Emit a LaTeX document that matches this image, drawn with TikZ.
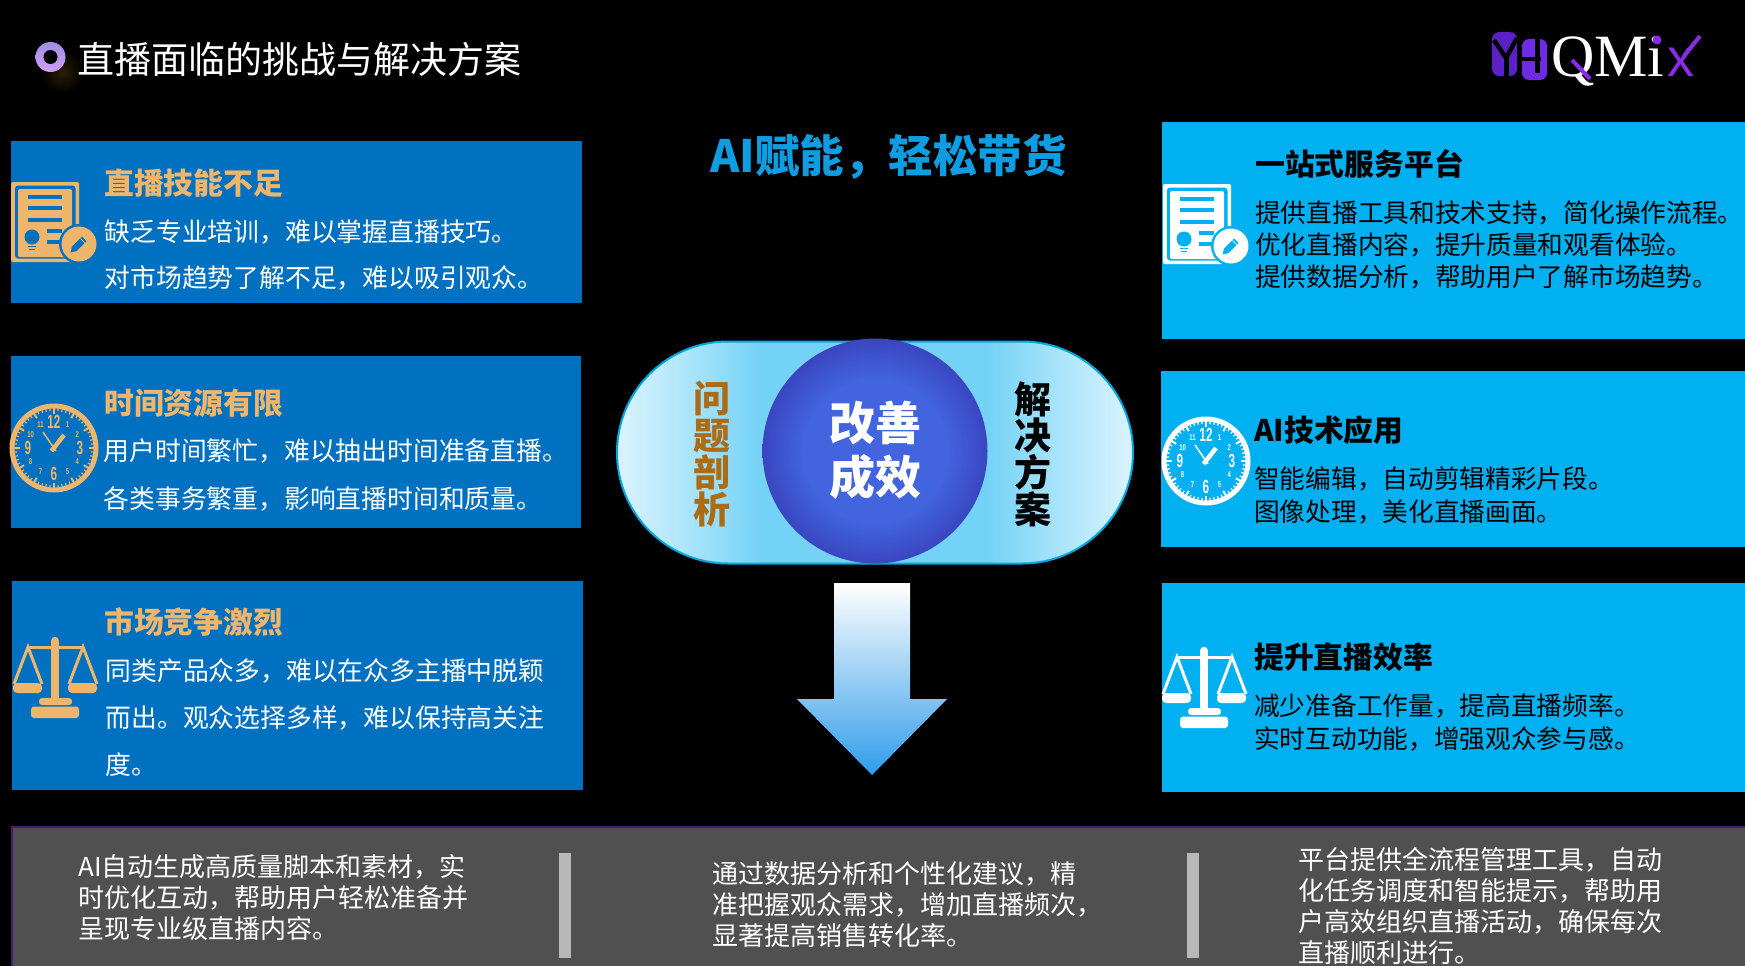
\documentclass[tikz,border=0pt]{standalone}
\usepackage{fontspec}
\setmainfont{Noto Sans CJK SC}
\newfontfamily\numfont{Liberation Sans}
\newfontfamily\logofont{Liberation Serif}

\definecolor{probblue}{HTML}{0070C0}
\definecolor{solvblue}{HTML}{00B0F0}
\definecolor{tan}{HTML}{EEB56C}
\definecolor{bandgray}{HTML}{505050}
\definecolor{bandline}{HTML}{4A1A6E}
\definecolor{sepgray}{HTML}{B8B8B8}
\definecolor{headblue}{HTML}{0F9DE2}
\definecolor{capsedge}{HTML}{00A8E0}
\definecolor{capspale}{HTML}{DAF3FD}
\definecolor{capslight}{HTML}{B2E7FB}
\definecolor{capsmid}{HTML}{74D2F6}
\definecolor{ballin}{HTML}{4264DE}
\definecolor{ballout}{HTML}{3946C0}
\definecolor{probword}{HTML}{AD6B14}
\definecolor{arrowmid}{HTML}{93DBF8}
\definecolor{arrowend}{HTML}{2F9CEA}
\definecolor{logoa}{HTML}{5A22C4}
\definecolor{logob}{HTML}{6E2BE6}
\definecolor{logox}{HTML}{8A2BE8}
\definecolor{dotup}{HTML}{A08CE2}
\definecolor{dotlow}{HTML}{D09EF8}
\definecolor{glow}{HTML}{2A1E08}

\pgfdeclarehorizontalshading{capsshade}{100bp}{color(0bp)=(capspale); color(25bp)=(capspale); color(31bp)=(capslight); color(39bp)=(capsmid); color(61bp)=(capsmid); color(69bp)=(capslight); color(75bp)=(capspale); color(100bp)=(capspale)}
\pgfdeclareradialshading{ballshade}{\pgfpoint{0bp}{0bp}}{color(0bp)=(ballin); color(16bp)=(ballin); color(25bp)=(ballout); color(50bp)=(ballout)}

\tikzset{
    probbox/.style={fill=probblue, rectangle, inner sep=0},
    solvbox/.style={fill=solvblue, rectangle, inner sep=0},
    probhead/.style={anchor=west, inner sep=0, text=tan, font=\fontsize{29.8}{36}\selectfont\bfseries},
    solvhead/.style={anchor=west, inner sep=0, text=black, font=\fontsize{29.8}{36}\selectfont\bfseries},
    probtext/.style={anchor=west, inner sep=0, align=left, text=white, font=\fontsize{25.8}{#1}\selectfont},
    solvtext/.style={anchor=west, inner sep=0, align=left, text=black, font=\fontsize{25.7}{#1}\selectfont},
    bandtext/.style={anchor=west, inner sep=0, align=left, text=white, font=\fontsize{26}{31}\selectfont},
    sidetext/.style={inner sep=0, align=center, font=\fontsize{37}{36.7}\selectfont\bfseries},
    sepbar/.style={fill=sepgray, rectangle, inner sep=0, minimum width=11.5pt, minimum height=105pt},
    bignum/.style={inner sep=0, xscale=0.62, transform shape, font=\fontsize{19}{19}\selectfont\numfont\bfseries},
    smallnum/.style={inner sep=0, xscale=0.7, transform shape, font=\fontsize{8.5}{9}\selectfont\numfont\bfseries},
}

% icons: position, then foreground and background colour
\newcommand{\docicon}[4]{
    \begin{scope}[shift={(#1,#2)}]
        \fill[#3, rounded corners=2pt] (0, 0) rectangle (68, 80);
        \fill[#4, rounded corners=3pt] (4, 3.5) rectangle (64.5, 76.5);
        \fill[#3, rounded corners=2pt] (7, 7) rectangle (61, 75);
        \foreach \y in {15, 26, 38} {
            \draw[#4, line width=4pt] (17, \y) -- (51, \y);
        }
        \draw[#4, line width=4pt] (36, 49) -- (51, 49);
        \draw[#4, line width=4pt] (36, 60) -- (51, 60);
        \fill[#4] (21, 55) circle (7.5);
        \draw[#4, line width=1.2pt] (17, 64.5) -- (25, 64.5);
        \draw[#4, line width=1.2pt] (18, 67.5) -- (24, 67.5);
        \fill[#4] (68, 62) circle (20);
        \fill[#3] (68, 62) circle (17.5);
        \fill[#4] (59.5, 70.5) -- (61, 64.5) -- (71, 54.5) -- (75.5, 59) -- (65.5, 69) -- cycle;
        \draw[#3, line width=0.8pt] (69.5, 56.5) -- (73.5, 60.5);
    \end{scope}
}
\newcommand{\clockicon}[5]{
    \begin{scope}[shift={(#2,#3)}]
        \draw[#4, line width=5pt] (0, 0) circle (42);
        \foreach \a in {0, 6, ..., 354} {
            \draw[#4, line width=1.2pt] (\a:41) -- (\a:37);
        }
        \foreach \a in {0, 30, ..., 330} {
            \draw[#4, line width=2pt] (\a:41) -- (\a:34.5);
        }
        \foreach \n/\a in {12/-90, 3/0, 6/90, 9/180} {
            \node[bignum, text=#4] at (\a:26) (#1big\n) {\n};
        }
        \foreach \n/\a in {1/-60, 2/-30, 4/30, 5/60, 7/120, 8/150, 10/210, 11/240} {
            \node[smallnum, text=#4] at (\a:27) (#1small\n) {\n};
        }
        \draw[#4, line width=4.5pt] (-2.5, 3) -- (10, -13);
        \draw[#4, line width=1.5pt] (2, 3) -- (-11, -16);
    \end{scope}
}
\newcommand{\scaleicon}[3]{
    \begin{scope}[shift={(#1,#2)}]
        \draw[#3, line width=8.5pt, line cap=round] (0, 4) -- (0, 61);
        \draw[#3, line width=3pt] (-27, 10.5) -- (27, 10.5);
        \draw[#3, line width=3pt] (-41, 47) -- (-27, 10) -- (-13, 47);
        \draw[#3, line width=3pt] (14, 47) -- (28, 10) -- (42, 47);
        \fill[#3, rounded corners=4pt] (-42, 46) -- (-13, 46) -- (-13, 56) -- (-42, 56) -- cycle;
        \fill[#3, rounded corners=4pt] (13, 46) -- (42, 46) -- (42, 56) -- (13, 56) -- cycle;
        \fill[#3, rounded corners=3pt] (-16, 68) -- (-16, 61) -- (17, 61) -- (17, 68) -- cycle;
        \fill[#3, rounded corners=3pt] (-24, 69.5) rectangle (24, 81);
    \end{scope}
}

\begin{document}
\begin{tikzpicture}[x=1pt, y=-1pt]
    \fill[black] (0, 0) rectangle (1745, 966);
    \useasboundingbox (0, 0) rectangle (1745, 966);

    % title
    \shade[inner color=glow, outer color=black] (62, 72) circle (22);
    \shade[top color=dotup, bottom color=dotlow] (50.5, 57) circle (15);
    \fill[black] (50.5, 57) circle (7);
    \node[anchor=west, inner sep=0, text=white, font=\fontsize{37}{40}\selectfont] at (77, 59) (title) {直播面临的挑战与解决方案};

    % logo
    \fill[logoa, rounded corners=7pt] (1492, 32) rectangle (1517, 76);
    \fill[logob, rounded corners=7pt] (1522, 39) rectangle (1547, 80);
    \draw[black, line width=4.5pt] (1494, 40) -- (1506, 58) -- (1517, 38);
    \draw[black, line width=5pt] (1506, 58) -- (1506, 77);
    \draw[black, line width=4.5pt] (1521, 59) -- (1541, 59);
    \draw[black, line width=5pt] (1537.5, 38) -- (1537.5, 73);
    \node[anchor=base west, inner sep=0, text=white, font=\fontsize{60}{60}\selectfont\logofont] at (1551, 77) (logotext) {QMi};
    \node[anchor=base west, inner sep=0, text=logox, font=\fontsize{54}{60}\selectfont\numfont] at (1667, 77) (logox) {x};
    \draw[logox, line width=4pt] (1572, 60) -- (1590, 79);
    \draw[logox, line width=4pt] (1700, 36) -- (1684, 56);
    \fill[logox] (1657, 40) circle (4.5);

    % problem boxes
    \node[probbox, minimum width=571pt, minimum height=162pt] at (296.5, 222) (prob1) {};
    \node[probbox, minimum width=570pt, minimum height=172pt] at (296, 442) (prob2) {};
    \node[probbox, minimum width=571pt, minimum height=209pt] at (297.5, 685.5) (prob3) {};

    \docicon{11}{182}{tan}{probblue}
    \clockicon{p}{54}{448}{tan}{probblue}
    \scaleicon{55}{637}{tan}

    \node[probhead] at (104, 183) (probhead1) {直播技能不足};
    \node[probtext=46] at (104.5, 255) (probtext1) {缺乏专业培训，难以掌握直播技巧。\\对市场趋势了解不足，难以吸引观众。};
    \node[probhead] at (104, 403) (probhead2) {时间资源有限};
    \node[probtext=48] at (103.5, 475) (probtext2) {用户时间繁忙，难以抽出时间准备直播。\\各类事务繁重，影响直播时间和质量。};
    \node[probhead] at (104, 622) (probhead3) {市场竞争激烈};
    \node[probtext=47] at (105.5, 718) (probtext3) {同类产品众多，难以在众多主播中脱颖\\而出。观众选择多样，难以保持高关注\\度。};

    % solution boxes
    \node[solvbox, minimum width=583pt, minimum height=217pt] at (1453.5, 230.5) (solv1) {};
    \node[solvbox, minimum width=584pt, minimum height=176pt] at (1453, 459) (solv2) {};
    \node[solvbox, minimum width=583pt, minimum height=209pt] at (1453.5, 687.5) (solv3) {};

    \docicon{1163}{184}{white}{solvblue}
    \clockicon{s}{1206}{461}{white}{solvblue}
    \scaleicon{1204}{647}{white}

    \node[solvhead] at (1255, 164) (solvhead1) {一站式服务平台};
    \node[solvtext=32] at (1255, 245) (solvtext1) {提供直播工具和技术支持，简化操作流程。\\优化直播内容，提升质量和观看体验。\\提供数据分析，帮助用户了解市场趋势。};
    \node[solvhead] at (1254, 430) (solvhead2) {AI技术应用};
    \node[solvtext=33] at (1254, 495.5) (solvtext2) {智能编辑，自动剪辑精彩片段。\\图像处理，美化直播画面。};
    \node[solvhead] at (1254, 657) (solvhead3) {提升直播效率};
    \node[solvtext=33] at (1254, 722.5) (solvtext3) {减少准备工作量，提高直播频率。\\实时互动功能，增强观众参与感。};

    % centre
    \node[inner sep=0, text=headblue, font=\fontsize{44.5}{46}\selectfont\bfseries] at (888.5, 157) (slogan) {AI赋能，轻松带货};
    \node[rectangle, draw=capsedge, line width=2pt, rounded corners=111pt, minimum width=516pt, minimum height=222pt,
        shading=capsshade] at (875, 452.5) (capsule) {};
    \node[circle, inner sep=0, minimum size=225pt, shading=ballshade] at (875, 451) (ball) {};
    \node[inner sep=0, align=center, text=white, font=\fontsize{46}{54}\selectfont\bfseries] at (875, 450) (balltext) {改善\\成效};
    \node[sidetext, text=probword] at (712, 454) (sideprob) {问\\题\\剖\\析};
    \node[sidetext, text=black] at (1033, 454) (sidesolv) {解\\决\\方\\案};
    \shade[top color=white, middle color=arrowmid, bottom color=arrowend]
        (834, 583) -- (910, 583) -- (910, 699) -- (947, 699) -- (872, 775) -- (797, 699) -- (834, 699) -- cycle;

    % bottom band
    \node[rectangle, fill=bandgray, draw=bandline, line width=2pt, inner sep=0, minimum width=1745pt, minimum height=145pt] at (884, 899.5) (band) {};
    \node[sepbar] at (565, 905.5) (sep1) {};
    \node[sepbar] at (1193, 905.5) (sep2) {};
    \node[bandtext] at (78, 897.5) (band1) {AI自动生成高质量脚本和素材，实\\时优化互动，帮助用户轻松准备并\\呈现专业级直播内容。};
    \node[bandtext] at (712, 905) (band2) {通过数据分析和个性化建议，精\\准把握观众需求，增加直播频次，\\显著提高销售转化率。};
    \node[bandtext] at (1298, 906) (band3) {平台提供全流程管理工具，自动\\化任务调度和智能提示，帮助用\\户高效组织直播活动，确保每次\\直播顺利进行。};
\end{tikzpicture}
\end{document}
